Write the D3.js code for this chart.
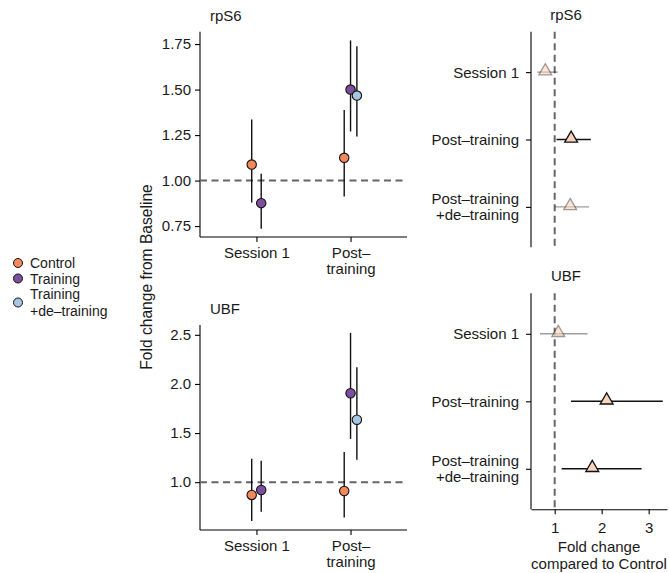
<html>
<head>
<meta http-equiv="Content-Type" content="text/html;charset=utf-8"/>
<script type="text/javascript" src="https://d3js.org/d3.v7.min.js"></script>
<style type="text/css">
  body { margin: 0; background: #fff; }
  svg { font-family: "Liberation Sans", Arial, sans-serif; }
  .axis path, .axis line { stroke: #000; stroke-width: 1.1; }
  .lab { font-size: 15px; fill: #1a1a1a; }
</style>
</head>
<body>
<div id="chart"></div>
<script type="text/javascript">

// groups and time points (left panels)
var groups = ["Control", "Training", "Training\n+de\u2013training"];
var groupColors = ["#F4875B", "#7E4E9E", "#A7C6E2"];
var timepoints = ["Session 1", "Post\u2013\ntraining"];

// one row per point: time index, group index
var pointTime  = [0, 0, 1, 1, 1];
var pointGroup = [0, 1, 0, 1, 2];

var rps6Fold  = [1.088, 0.876, 1.125, 1.500, 1.467];
var rps6Lower = [0.880, 0.736, 0.912, 1.270, 1.242];
var rps6Upper = [1.336, 1.037, 1.388, 1.770, 1.738];

var ubfFold   = [0.870, 0.920, 0.910, 1.905, 1.636];
var ubfLower  = [0.605, 0.700, 0.640, 1.440, 1.228];
var ubfUpper  = [1.238, 1.218, 1.306, 2.520, 2.170];

var rps6Ticks = [0.75, 1.00, 1.25, 1.50, 1.75];
var ubfTicks  = [1.0, 1.5, 2.0, 2.5];

// contrasts vs control (right panels)
var contrasts = ["Session 1", "Post\u2013training", "Post\u2013training\n+de\u2013training"];
var rps6Ratio   = [0.80, 1.35, 1.33];
var rps6RatioLo = [0.63, 1.04, 1.006];
var rps6RatioHi = [1.065, 1.77, 1.73];
var rps6Faded   = [true, false, true];

var ubfRatio    = [1.077, 2.106, 1.80];
var ubfRatioLo  = [0.687, 1.347, 1.149];
var ubfRatioHi  = [1.70, 3.30, 2.85];
var ubfFaded    = [true, false, false];

var ratioTicks = [1, 2, 3];

var W = 669, H = 573;
var FONT = "'Liberation Sans', Arial, sans-serif";
var svg = d3.select("#chart").append("svg")
    .attr("width", W)
    .attr("height", H);

function multiline(sel, txt, lh) {
    var lines = txt.split("\n");
    lines.forEach(function(l, i) {
        sel.append("tspan").attr("x", 0).attr("dy", i == 0 ? 0 : lh).text(l);
    });
}

// ---- left panels ----
var xLeft = d3.scalePoint().domain(d3.range(timepoints.length)).range([200, 407]).padding(0.6);
var dodgeW = 19;

function leftPanel(title, top, bottom, domain, ticks, fold, lower, upper, fmt) {
    var y = d3.scaleLinear().domain(domain).range([bottom, top]);
    var g = svg.append("g");

    g.append("text").attr("class", "lab").attr("x", 210).attr("y", top - 11).text(title);

    // y axis
    var ya = g.append("g").attr("class", "axis")
        .attr("transform", "translate(200,0)")
        .call(d3.axisLeft(y).tickValues(ticks).tickFormat(d3.format(fmt)).tickSize(5).tickPadding(4).tickSizeOuter(0));
    ya.selectAll("text").attr("fill", "#1a1a1a").style("font-size", "15px").style("font-family", FONT);
    ya.select(".domain").attr("d", "M0," + top + "V" + bottom);

    // x axis
    var xa = g.append("g").attr("class", "axis")
        .attr("transform", "translate(0," + bottom + ")")
        .call(d3.axisBottom(xLeft).tickSize(5).tickSizeOuter(0).tickFormat(""));
    xa.select(".domain").attr("d", "M200,0H407");
    xa.selectAll(".tick").each(function(d) {
        var t = d3.select(this).append("text")
            .attr("y", 21).attr("fill", "#1a1a1a")
            .style("font-size", "15px").style("font-family", FONT);
        multiline(t, timepoints[d], 15.5);
    });

    // reference line
    g.append("line")
        .attr("x1", 200).attr("x2", 407)
        .attr("y1", y(1)).attr("y2", y(1))
        .attr("stroke", "#656565").attr("stroke-width", 2)
        .attr("stroke-dasharray", "7,4.5");

    var rows = fold.map(function(v, i) {
        var t = pointTime[i];
        var n = pointTime.filter(function(p) { return p == t; }).length;
        var k = pointTime.slice(0, i).filter(function(p) { return p == t; }).length;
        return { x: xLeft(t) + (k - (n - 1) / 2) * dodgeW / n, v: v, lo: lower[i], hi: upper[i], g: pointGroup[i] };
    });

    g.selectAll(".err").data(rows).enter().append("line")
        .attr("x1", function(d) { return d.x; }).attr("x2", function(d) { return d.x; })
        .attr("y1", function(d) { return y(d.lo); }).attr("y2", function(d) { return y(d.hi); })
        .attr("stroke", "#111").attr("stroke-width", 1.4);

    g.selectAll(".pt").data(rows).enter().append("circle")
        .attr("cx", function(d) { return d.x; })
        .attr("cy", function(d) { return y(d.v); })
        .attr("r", 4.7)
        .attr("fill", function(d) { return groupColors[d.g]; })
        .attr("stroke", "#111").attr("stroke-width", 1.1);
}

leftPanel("rpS6", 31.7, 237, [0.69, 1.818], rps6Ticks, rps6Fold, rps6Lower, rps6Upper, ".2f");
leftPanel("UBF", 325, 530, [0.513, 2.6], ubfTicks, ubfFold, ubfLower, ubfUpper, ".1f");

svg.append("text").attr("class", "lab")
    .style("font-size", "15.6px")
    .attr("transform", "translate(152,277) rotate(-90)")
    .attr("text-anchor", "middle")
    .text("Fold change from Baseline");

// legend
var leg = svg.append("g");
var legY = [263, 278.5, 302.5];
groups.forEach(function(name, i) {
    leg.append("circle").attr("cx", 18).attr("cy", legY[i]).attr("r", 4.5)
        .attr("fill", groupColors[i]).attr("stroke", "#111").attr("stroke-width", 1);
    var lines = name.split("\n");
    var t = leg.append("text").attr("class", "lab")
        .style("font-size", "14px")
        .attr("transform", "translate(30," + (legY[i] + 5 - (lines.length - 1) * 8.5) + ")");
    multiline(t, name, 17);
});

// ---- right panels ----
var xRight = d3.scaleLinear().domain([0.496, 3.39]).range([531, 667]);
var tri = d3.symbol().type(d3.symbolTriangle).size(72);

function rightPanel(title, top, bottom, showX, ratio, lo, hi, faded) {
    var y = d3.scalePoint().domain(d3.range(contrasts.length)).range([top, bottom]).padding(0.6);
    var g = svg.append("g");

    g.append("text").attr("class", "lab")
        .attr("x", 566).attr("y", top - 12).attr("text-anchor", "middle").text(title);

    var ya = g.append("g").attr("class", "axis")
        .attr("transform", "translate(531,0)")
        .call(d3.axisLeft(y).tickSize(5).tickSizeOuter(0).tickFormat(""));
    ya.select(".domain").attr("d", "M0," + top + "V" + bottom);
    ya.selectAll(".tick").each(function(d) {
        var lines = contrasts[d].split("\n");
        var t = d3.select(this).append("text")
            .attr("x", -12).attr("text-anchor", "end").attr("fill", "#1a1a1a")
            .attr("y", 5 - (lines.length - 1) * 8)
            .style("font-size", "15px").style("font-family", FONT);
        lines.forEach(function(l, i) {
            t.append("tspan").attr("x", -12).attr("dy", i == 0 ? 0 : 16).text(l);
        });
    });

    if (showX) {
        var xa = g.append("g").attr("class", "axis")
            .attr("transform", "translate(0," + bottom + ")")
            .call(d3.axisBottom(xRight).tickValues(ratioTicks).tickFormat(d3.format("d")).tickSize(5).tickPadding(8).tickSizeOuter(0));
        xa.selectAll("text").attr("fill", "#1a1a1a").style("font-size", "15px").style("font-family", FONT);
        var xt = g.append("text").attr("class", "lab")
            .attr("text-anchor", "middle")
            .attr("transform", "translate(599," + (bottom + 43) + ")");
        xt.append("tspan").attr("x", 0).text("Fold change");
        xt.append("tspan").attr("x", 0).attr("dy", 16.5).text("compared to Control");
    }

    g.append("line")
        .attr("x1", xRight(1)).attr("x2", xRight(1))
        .attr("y1", top).attr("y2", bottom)
        .attr("stroke", "#656565").attr("stroke-width", 2)
        .attr("stroke-dasharray", "7,4.5");

    var rows = ratio.map(function(v, i) { return { i: i, v: v, lo: lo[i], hi: hi[i], f: faded[i] }; });

    g.selectAll(".err").data(rows).enter().append("line")
        .attr("x1", function(d) { return xRight(d.lo); }).attr("x2", function(d) { return xRight(d.hi); })
        .attr("y1", function(d) { return y(d.i); }).attr("y2", function(d) { return y(d.i); })
        .attr("stroke", "#111").attr("stroke-width", 1.4)
        .attr("opacity", function(d) { return d.f ? 0.4 : 1; });

    g.selectAll(".tri").data(rows).enter().append("path")
        .attr("d", tri)
        .attr("transform", function(d) { return "translate(" + xRight(d.v) + "," + (y(d.i) - 1) + ")"; })
        .attr("fill", "#F9D3BD").attr("stroke", "#111").attr("stroke-width", 1.3)
        .attr("stroke-opacity", function(d) { return d.f ? 0.4 : 1; })
        .attr("fill-opacity", function(d) { return d.f ? 0.6 : 1; });
}

rightPanel("rpS6", 31.7, 247.3, false, rps6Ratio, rps6RatioLo, rps6RatioHi, rps6Faded);
rightPanel("UBF", 293.3, 509.3, true, ubfRatio, ubfRatioLo, ubfRatioHi, ubfFaded);

</script>
</body>
</html>
